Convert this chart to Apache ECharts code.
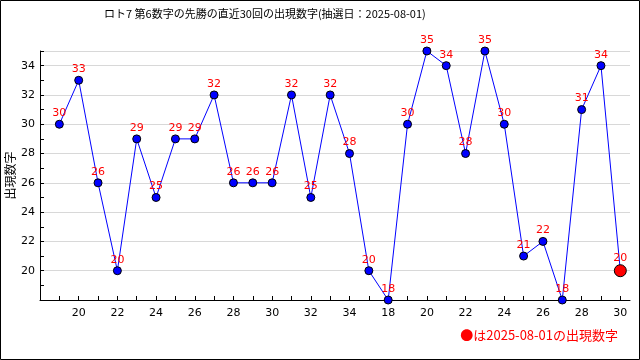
<!DOCTYPE html>
<html><head><meta charset="utf-8">
<script src="https://cdn.jsdelivr.net/npm/echarts@6/dist/echarts.min.js"></script>
<style>html,body{margin:0;padding:0;background:#fff}#c{width:640px;height:360px}</style>
</head><body><div id="c"></div>
<script>
const categories = ['19','20','21','22','23','24','25','26','27','28','29','30','31','32','33','34','17','18','19','20','21','22','23','24','25','26','27','28','29','30'];
const values = [30,33,26,20,29,25,29,29,32,26,26,26,32,25,32,28,20,18,30,35,34,28,35,30,21,22,18,31,34,20];
const yTicks = [20,22,24,26,28,30,32,34];
const titleText = 'ロト7 第6数字の先勝の直近30回の出現数字(抽選日：2025-08-01)';
const legendText = '●は2025-08-01の出現数字';
const yName = '出現数字';

const font = '"Noto Sans CJK JP", "DejaVu Sans", sans-serif';
const last = values.length - 1;
const data = values.map((v, i) => i === last
  ? {value: [i, v], symbolSize: 12, itemStyle: {color: '#ff0000', borderColor: '#000', borderWidth: 1}}
  : [i, v]);

const chart = echarts.init(document.getElementById('c'));
chart.setOption({
  animation: false,
  backgroundColor: '#fff',
  title: {text: titleText, left: 99, top: 3, textStyle: {fontFamily: font, fontSize: 11, fontWeight: 'normal', color: '#000'}},
  grid: {left: 40, right: 10, top: 51, bottom: 60, containLabel: false, outerBoundsMode: 'none'},
  xAxis: {
    type: 'value', min: -1, max: 29.5, interval: 1,
    axisLine: {show: true, onZero: false, lineStyle: {color: '#000', width: 1}},
    axisTick: {show: true, inside: true, length: 4, lineStyle: {color: '#000'}},
    splitLine: {show: false},
    axisLabel: {color: '#000', fontFamily: '"DejaVu Sans", sans-serif', fontSize: 11, margin: 8, showMaxLabel: false,
      formatter: v => (v >= 0 && v % 2 === 1 && Number.isInteger(v)) ? categories[v] : ''}
  },
  yAxis: [{
    type: 'value', min: 18, max: 35, interval: 2, position: 'left',
    name: yName, nameLocation: 'middle', nameRotate: 90, nameGap: 24, nameMoveOverlap: false,
    nameTextStyle: {fontFamily: font, fontSize: 12, color: '#000'},
    axisLine: {show: true, onZero: false, lineStyle: {color: '#000', width: 1}},
    axisTick: {show: false},
    splitLine: {show: true, lineStyle: {color: '#d8d8d8', width: 1}},
    axisLabel: {color: '#000', fontFamily: '"DejaVu Sans", sans-serif', fontSize: 11, margin: 5, showMinLabel: false,
      formatter: v => yTicks.includes(v) ? String(v) : ''}
  }, {
    type: 'value', min: 18, max: 35, interval: 1, position: 'left', offset: 0,
    axisLine: {show: false, onZero: false},
    axisTick: {show: true, inside: true, length: 4, lineStyle: {color: '#000'}},
    splitLine: {show: false},
    axisLabel: {show: false}
  }],
  series: [{
    type: 'line', data: data, yAxisIndex: 0,
    lineStyle: {color: '#0000ff', width: 1},
    symbol: 'circle', symbolSize: 8,
    itemStyle: {color: '#0000ff', borderColor: '#000', borderWidth: 1},
    label: {show: true, position: 'top', distance: 1, color: '#ff0000', fontFamily: '"DejaVu Sans", sans-serif', fontSize: 11,
      formatter: p => String(p.value[1])},
    z: 3
  }],
  graphic: [
    {type: 'rect', shape: {x: 0.5, y: 0.5, width: 639, height: 359}, style: {fill: 'none', stroke: '#000', lineWidth: 1}, silent: true},
    {type: 'text', right: 22, top: 329, style: {text: legendText, fill: '#ff0000', font: '13px ' + font}}
  ]
});
</script></body></html>
